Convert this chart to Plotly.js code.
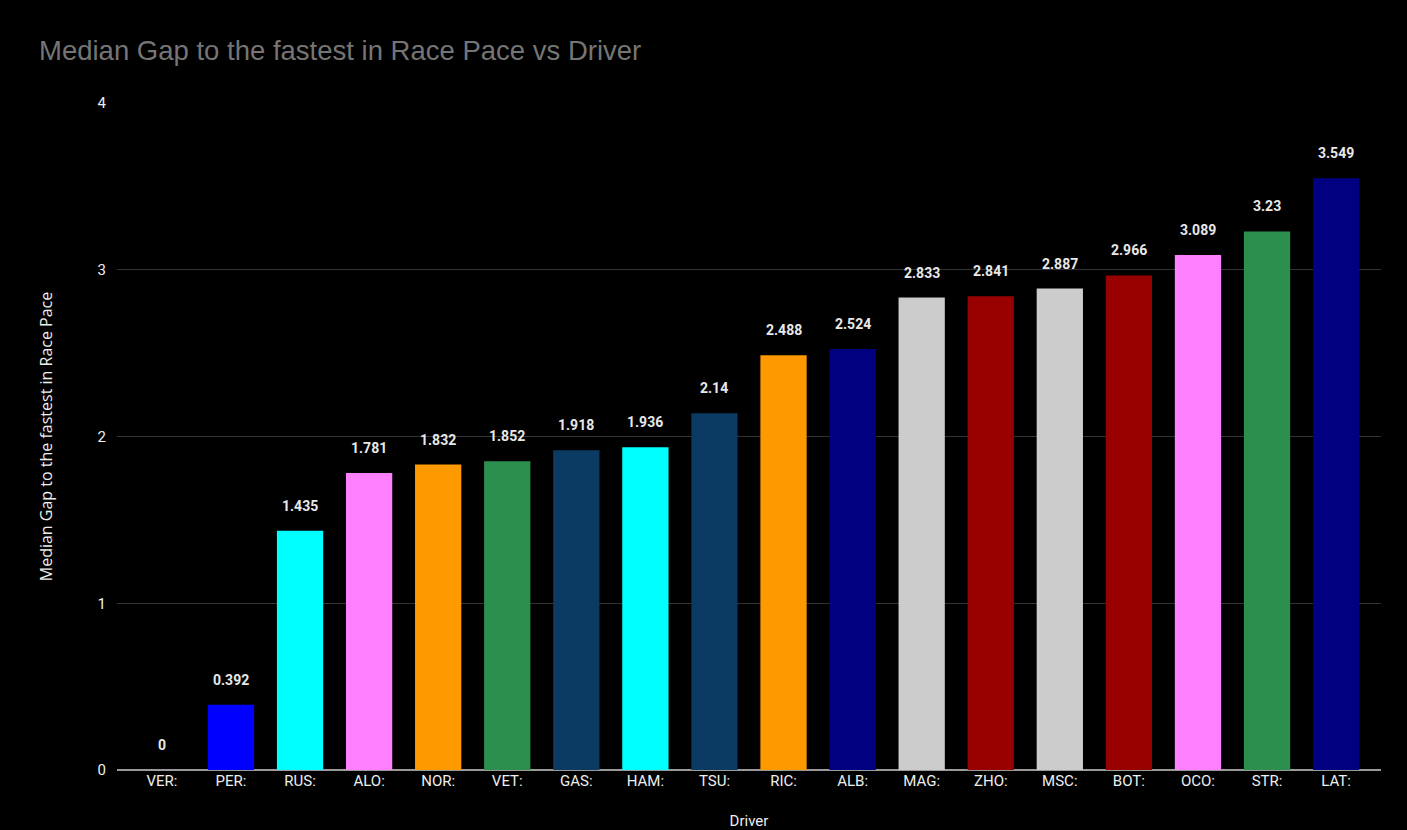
<!DOCTYPE html>
<html>
<head>
<meta charset="utf-8">
<script src="https://cdn.plot.ly/plotly-3.0.1.min.js"></script>
<style>
  html, body { margin: 0; padding: 0; background: #000; }
  #chart { width: 1407px; height: 830px; }
</style>
</head>
<body>
<div id="chart"></div>
<script>
// drivers and their median gap (s) to the fastest race pace
var drivers = ['VER:', 'PER:', 'RUS:', 'ALO:', 'NOR:', 'VET:', 'GAS:', 'HAM:', 'TSU:',
               'RIC:', 'ALB:', 'MAG:', 'ZHO:', 'MSC:', 'BOT:', 'OCO:', 'STR:', 'LAT:'];
var gaps = [0, 0.392, 1.435, 1.781, 1.832, 1.852, 1.918, 1.936, 2.14,
            2.488, 2.524, 2.833, 2.841, 2.887, 2.966, 3.089, 3.23, 3.549];
var teamColors = ['#0000ff', '#0000ff', '#00ffff', '#ff80ff', '#ff9900', '#2d8f4e', '#0b3a63', '#00ffff', '#0b3a63',
                  '#ff9900', '#000080', '#cccccc', '#990000', '#cccccc', '#990000', '#ff80ff', '#2d8f4e', '#000080'];
var yTicks = [0, 1, 2, 3, 4];

var data = [{
  type: 'bar',
  x: drivers,
  y: gaps,
  width: 0.67,
  marker: { color: teamColors, line: { width: 0 } },
  hoverinfo: 'x+y',
  showlegend: false
}];

// value labels above the bars
var labels = drivers.map(function (d, i) {
  return {
    x: d,
    y: gaps[i],
    xref: 'x',
    yref: 'y',
    text: String(gaps[i]),
    showarrow: false,
    yshift: 25,
    yanchor: 'middle',
    font: { family: 'Roboto', size: 14, color: '#e8e8e8', weight: 'bold' }
  };
});

var layout = {
  width: 1407,
  height: 830,
  paper_bgcolor: '#000000',
  plot_bgcolor: '#000000',
  margin: { l: 117, r: 26, t: 103, b: 60 },
  title: {
    text: 'Median Gap to the fastest in Race Pace vs Driver',
    xref: 'container', yref: 'container',
    x: 39 / 1407, xanchor: 'left',
    y: 1 - 50 / 830, yanchor: 'middle',
    font: { family: 'Liberation Sans', size: 27.5, color: '#757575' }
  },
  xaxis: {
    type: 'category',
    range: [-0.65, 17.65],
    showgrid: false,
    showline: false,
    zeroline: false,
    tickfont: { family: 'Roboto', size: 15, color: '#eeeeee' },
    automargin: false,
    title: {
      text: 'Driver',
      standoff: 40,
      font: { family: 'Roboto', size: 15, color: '#eeeeee' }
    }
  },
  yaxis: {
    range: [0, 4],
    tickvals: yTicks,
    ticktext: yTicks.map(String),
    showgrid: true,
    gridcolor: '#333333',
    gridwidth: 1,
    zeroline: true,
    zerolinecolor: '#9a9a9a',
    zerolinewidth: 2,
    ticklabelstandoff: 10,
    tickfont: { family: 'Roboto', size: 15, color: '#eeeeee' },
    automargin: false,
    title: {
      text: 'Median Gap to the fastest in Race Pace',
      standoff: 40,
      font: { family: 'Open Sans', size: 16, color: '#eeeeee' }
    }
  },
  annotations: labels,
  bargap: 0.33
};

Plotly.newPlot('chart', data, layout, { displayModeBar: false, responsive: false });
</script>
</body>
</html>
